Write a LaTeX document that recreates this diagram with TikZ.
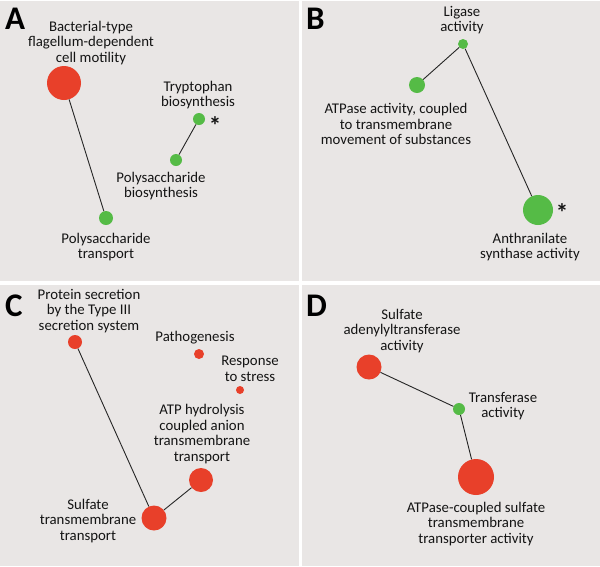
\documentclass[tikz,border=0pt]{standalone}
\usepackage{fontspec}
\setmainfont{Carlito}
\usepackage{xcolor}
\definecolor{term-red}{HTML}{E8402A}
\definecolor{term-green}{HTML}{55BB46}
\definecolor{panel-gray}{HTML}{E9E6E5}
\definecolor{label-ink}{HTML}{141414}

\begin{document}
\begin{tikzpicture}[x=1pt, y=-1pt,
      every node/.style={font=\fontsize{14.8}{15.6}\selectfont, text=label-ink},
      term/.style={circle, inner sep=0pt, minimum size=#1},
      redterm/.style={term=#1, fill=term-red},
      greenterm/.style={term=#1, fill=term-green},
      lbl/.style={align=center},
      starmark/.style={font=\fontsize{25}{25}\selectfont\bfseries, inner sep=0pt},
      panelmark/.style={font=\fontsize{33}{33}\selectfont\bfseries, text=black, anchor=north west, inner sep=0pt},
      link/.style={line width=0.9pt, draw=black!85}]
    \useasboundingbox (0,0) rectangle (600,566);
    \fill[white] (0,0) rectangle (600,566);
    % the four panels
    \fill[panel-gray] (0,1) rectangle (299,281);
    \fill[panel-gray] (302,1) rectangle (600,281);
    \fill[panel-gray] (0,285) rectangle (299,566);
    \fill[panel-gray] (302,285) rectangle (600,566);
    \node[panelmark] (markA) at (5,8) {A};
    \node[panelmark] (markB) at (306,8) {B};
    \node[panelmark] (markC) at (5,295) {C};
    \node[panelmark] (markD) at (306,295) {D};

    % panel A
    \node[redterm=34pt] (flagmot) at (64,83) {};
    \node[lbl] (flagmotlbl) at (91,43) {Bacterial-type\\flagellum-dependent\\cell motility};
    \node[greenterm=14pt] (polytrans) at (106,218) {};
    \node[lbl] (polytranslbl) at (106,247) {Polysaccharide\\transport};
    \node[greenterm=12pt] (trpbio) at (199,119) {};
    \node[lbl] (trpbiolbl) at (198,95) {Tryptophan\\biosynthesis};
    \node[starmark] (trpstar) at (215,126) {*};
    \node[greenterm=12pt] (polybio) at (176,160) {};
    \node[lbl] (polybiolbl) at (161,186) {Polysaccharide\\biosynthesis};
    \draw[link] (flagmot) -- (polytrans);
    \draw[link] (polybio) -- (trpbio);

    % panel B
    \node[greenterm=10pt] (ligase) at (463,44) {};
    \node[lbl] (ligaselbl) at (462,20) {Ligase\\activity};
    \node[greenterm=16pt] (atpact) at (417,85) {};
    \node[lbl] (atpactlbl) at (396,124) {ATPase activity, coupled\\to transmembrane\\movement of substances};
    \node[greenterm=30pt] (anthsyn) at (538,210) {};
    \node[starmark] (anthstar) at (562,213) {*};
    \node[lbl] (anthsynlbl) at (530,247) {Anthranilate\\synthase activity};
    \draw[link] (atpact) -- (ligase);
    \draw[link] (ligase) -- (anthsyn);

    % panel C
    \node[redterm=14pt] (t3ss) at (75,342) {};
    \node[lbl] (t3sslbl) at (89,311) {Protein secretion\\by the Type III\\secretion system};
    \node[redterm=10pt] (pathog) at (199,354) {};
    \node[lbl] (pathoglbl) at (195,338) {Pathogenesis};
    \node[redterm=8pt] (stress) at (240,390) {};
    \node[lbl] (stresslbl) at (250,369) {Response\\to stress};
    \node[redterm=24pt] (atphyd) at (201,480) {};
    \node[lbl] (atphydlbl) at (202,434) {ATP hydrolysis\\coupled anion\\transmembrane\\transport};
    \node[redterm=25pt] (sulftrans) at (154,518) {};
    \node[lbl] (sulftranslbl) at (88,521) {Sulfate\\transmembrane\\transport};
    \draw[link] (t3ss) -- (sulftrans);
    \draw[link] (sulftrans) -- (atphyd);

    % panel D
    \node[redterm=25pt] (adenyl) at (369,367) {};
    \node[lbl] (adenyllbl) at (402,331) {Sulfate\\adenylyltransferase\\activity};
    \node[greenterm=12pt] (transf) at (459,409) {};
    \node[lbl] (transflbl) at (503,406) {Transferase\\activity};
    \node[redterm=36pt] (sulfatp) at (476,477) {};
    \node[lbl] (sulfatplbl) at (476,524) {ATPase-coupled sulfate\\transmembrane\\transporter activity};
    \draw[link] (adenyl) -- (transf);
    \draw[link] (transf) -- (sulfatp);
  \end{tikzpicture}
\end{document}
